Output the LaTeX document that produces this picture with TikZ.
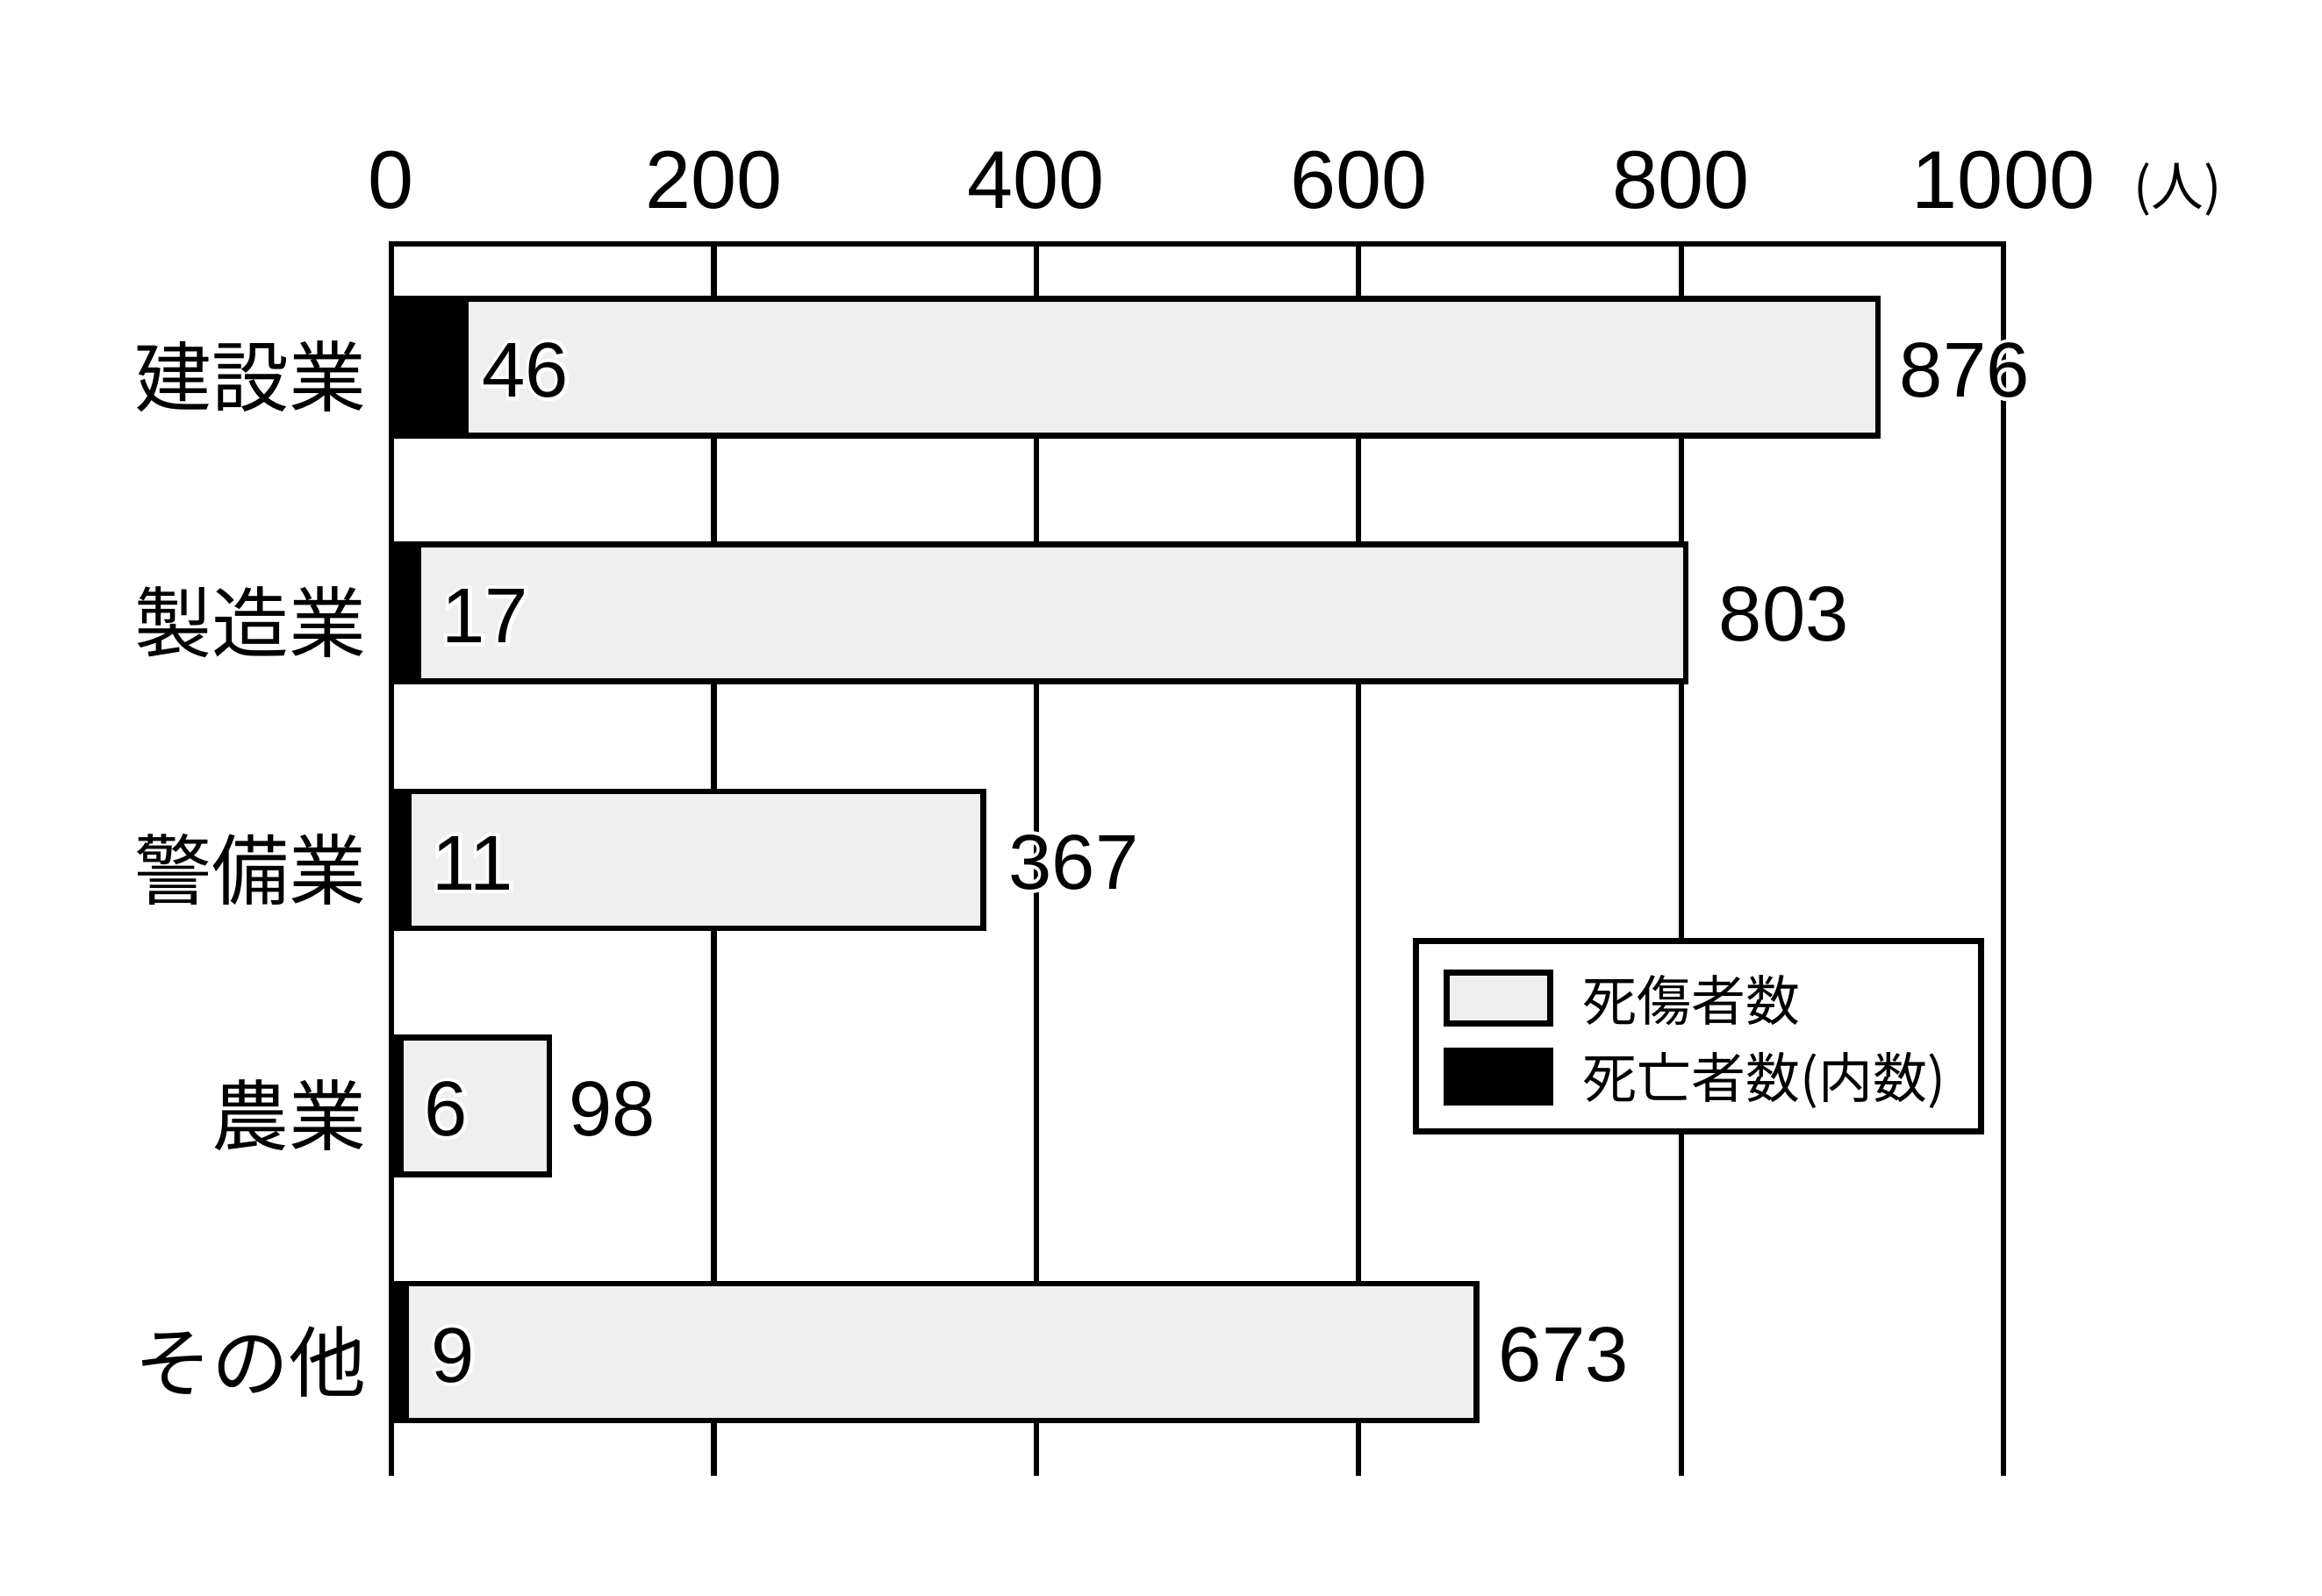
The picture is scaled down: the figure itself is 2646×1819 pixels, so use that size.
\documentclass[tikz,border=0pt]{standalone}
\usepackage{fontspec}
\setmainfont{Noto Sans CJK JP}
\newfontfamily\numfont{Liberation Sans}
\newfontfamily\halofont[FakeBold=9]{Liberation Sans}
\definecolor{barfill}{HTML}{EFEFEF}
\begin{document}
\begin{tikzpicture}[x=0.01cm,y=-0.01cm,
  frame/.style={line width=0.066cm, line join=miter},
  gridline/.style={line width=0.062cm},
  barbox/.style={draw=black, fill=barfill, line width=0.066cm},
  deathbar/.style={fill=black},
  catlabel/.style={font=\fontsize{25}{30}\selectfont, anchor=base east, inner sep=0pt},
  ticklabel/.style={font=\numfont\fontsize{26.6}{31}\selectfont, anchor=base, inner sep=0pt},
  vallabel/.style={font=\numfont\fontsize{25.2}{30}\selectfont, anchor=base west, inner sep=0pt},
  halolabel/.style={font=\halofont\fontsize{25.2}{30}\selectfont, anchor=base west, inner sep=0pt, text=white},
  leglabel/.style={font=\fontsize{17.6}{21}\selectfont, anchor=base west, inner sep=0pt}]
\useasboundingbox (0,0) rectangle (2646,1819);
\fill[white] (0,0) rectangle (2646,1819);
% grid
\foreach \k in {1,2,3,4}{
  \draw[gridline] ({446+\k*367.4},278) -- ({446+\k*367.4},1682);
}
\draw[frame] (446,1682) -- (446,278) -- (2283,278) -- (2283,1682);
\foreach \k/\lab in {0/0,1/200,2/400,3/600,4/800,5/1000}{
  \node[ticklabel] (tick\k) at ({446+\k*367.4},238) {\lab};
}
\node[font=\fontsize{17}{20}\selectfont, anchor=base west, inner sep=0pt] (unit) at (2431,235) {(人)};
% bars
\foreach \i/\c/\xe/\d/\name in {
  0/418.5/2140/46/建設業,
  1/698.5/1921.1/17/製造業,
  2/980/1120.2/11/警備業,
  3/1260.5/626/6/農業,
  4/1541/1682.3/9/その他}{
  \draw[barbox] (446,\c-78) rectangle (\xe,\c+78);
  \fill[deathbar] (442.7,\c-81.3) rectangle ({446+\d*1.837+3},\c+81.3);
  \node[catlabel] (cat\i) at (418,\c+44) {\name};
}
% value labels with white halo: inner (death) then outer (total)
\foreach \n/\x/\y/\t in {
  in0/549/452.5/46, in1/503/732.5/17, in2/492/1014/11, in3/483/1294.5/6, in4/491/1575/9,
  out0/2164/452.5/876, out1/1958/730.5/803, out2/1149/1013/367, out3/648/1294.5/98, out4/1707/1574/673}{
  \node[halolabel] (\n halo) at (\x,\y) {\t};
  \node[vallabel] (\n) at (\x,\y) {\t};
}
% legend
\draw[barbox, fill=white] (1613.3,1072.3) rectangle (2257.7,1289.7);
\draw[barbox] (1648.3,1108.3) rectangle (1766.7,1166.7);
\fill[deathbar] (1645,1194) rectangle (1770,1260);
\node[leglabel] (leg1) at (1803,1163) {死傷者数};
\node[leglabel] (leg2) at (1803,1251) {死亡者数(内数)};
\end{tikzpicture}
\end{document}
